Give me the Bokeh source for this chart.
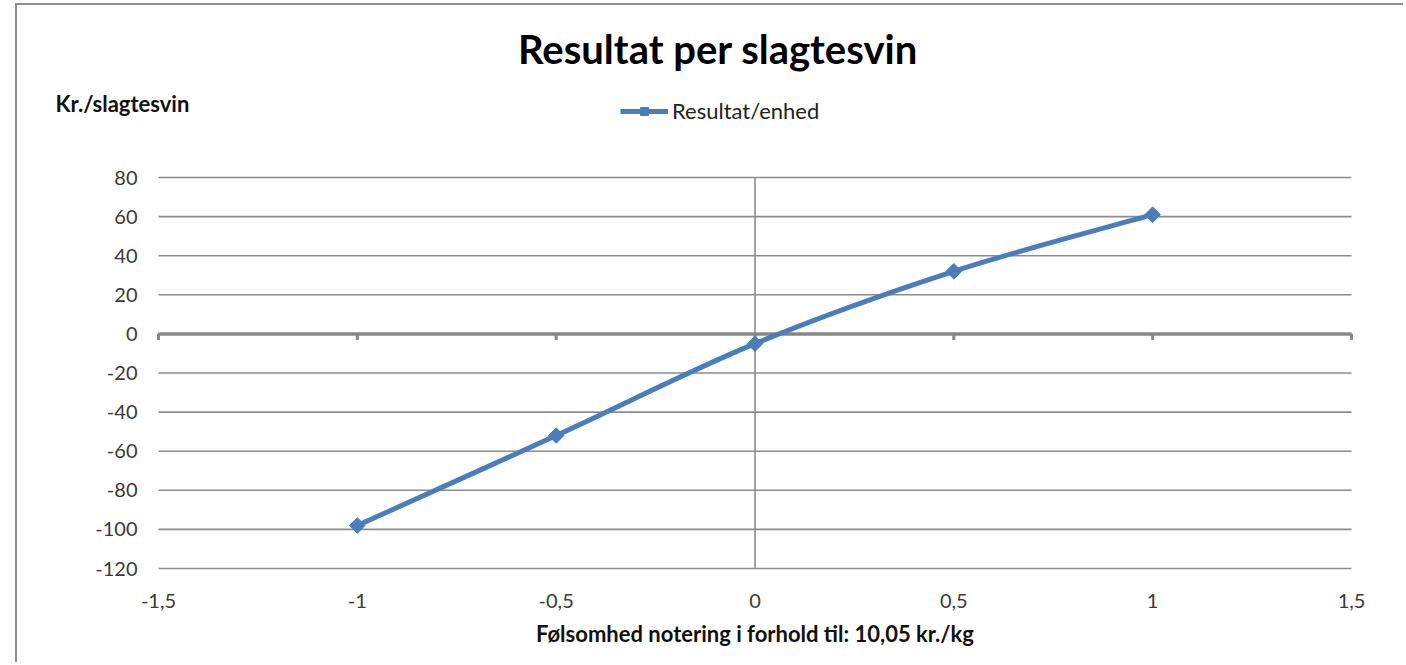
import math
from bokeh.plotting import figure
from bokeh.models import Range1d, Legend, LegendItem, ColumnDataSource
from bokeh.core.properties import value
from bokeh.embed import file_html
from bokeh.resources import INLINE

# ---- data ----
sensitivity = [-1.0, -0.5, 0.0, 0.5, 1.0]
result_per_unit = [-98, -52, -5, 32, 61]
x_ticks = [-1.5, -1.0, -0.5, 0.0, 0.5, 1.0, 1.5]
y_ticks = [-120, -100, -80, -60, -40, -20, 0, 20, 40, 60, 80]
title_text = "Resultat per slagtesvin"
y_label_text = "Kr./slagtesvin"
x_label_text = "Følsomhed notering i forhold til: 10,05 kr./kg"
series_name = "Resultat/enhed"

FONT = value("Lato")
BLUE = "#4a7ebb"
GRID = "#8c8c8c"
AXIS = "#878787"

# ---- layout (pixels) ----
W, H = 1388, 659                     # canvas size
PLOT_L, PLOT_R = 141, 1334           # plot area within the canvas
PLOT_T, PLOT_B = 172, 563
px_x = (PLOT_R - PLOT_L) / (x_ticks[-1] - x_ticks[0])   # pixels per x unit
px_y = (PLOT_B - PLOT_T) / (y_ticks[-1] - y_ticks[0])   # pixels per y unit
x_lo = x_ticks[0] - PLOT_L / px_x
x_hi = x_ticks[-1] + (W - PLOT_R) / px_x
y_hi = y_ticks[-1] + PLOT_T / px_y
y_lo = y_ticks[0] - (H - PLOT_B) / px_y


def dx(px):
    return px / px_x


def dy(px):
    return px / px_y


def fmt(v):
    return ("%g" % v).replace(".", ",")


p = figure(width=W, height=H, output_backend="svg", toolbar_location=None,
           x_range=Range1d(x_lo, x_hi), y_range=Range1d(y_lo, y_hi),
           min_border_left=0, min_border_right=0,
           min_border_top=0, min_border_bottom=0)
p.outline_line_color = None
p.background_fill_color = "white"
p.border_fill_color = "white"
p.xaxis.visible = False
p.yaxis.visible = False
p.grid.visible = False
p.styles = {"margin-left": "15px", "margin-top": "3px",
            "border-left": "2px solid #8f8f8f", "border-top": "2px solid #8f8f8f"}

nx, ny = len(x_ticks), len(y_ticks)

# horizontal gridlines
p.segment(x0=[x_ticks[0]] * ny, x1=[x_ticks[-1]] * ny, y0=y_ticks, y1=y_ticks,
          line_color=GRID, line_width=1.6)
# vertical axis line at x = 0
p.segment(x0=[0], x1=[0], y0=[y_ticks[0]], y1=[y_ticks[-1]],
          line_color=GRID, line_width=1.6)
# horizontal axis at y = 0 with its tick marks
p.segment(x0=[x_ticks[0]], x1=[x_ticks[-1]], y0=[0], y1=[0],
          line_color=AXIS, line_width=3.5)
p.segment(x0=x_ticks, x1=x_ticks, y0=[0] * nx, y1=[-dy(6)] * nx,
          line_color=AXIS, line_width=3)

# tick labels
p.text(x=[x_ticks[0] - dx(21)] * ny, y=y_ticks, text=[fmt(v) for v in y_ticks],
       text_font=FONT, text_font_size="20px", text_color="#3a3a3a",
       text_align="right", text_baseline="middle")
p.text(x=x_ticks, y=[y_ticks[0] - dy(32)] * nx, text=[fmt(v) for v in x_ticks],
       text_font=FONT, text_font_size="20px", text_color="#3a3a3a",
       text_align="center", text_baseline="middle")

# axis captions and title
p.text(x=[0], y=[y_ticks[0] - dy(65)], text=[x_label_text],
       text_font=FONT, text_font_size="22px", text_font_style="bold",
       text_color="#111111", text_align="center", text_baseline="middle")
p.text(x=[x_ticks[0] - dx(103)], y=[y_ticks[-1] + dy(74)], text=[y_label_text],
       text_font=FONT, text_font_size="22px", text_font_style="bold",
       text_color="#111111", text_align="left", text_baseline="middle")
p.text(x=[0 - dx(37)], y=[y_ticks[-1] + dy(129)], text=[title_text],
       text_font=FONT, text_font_size="40px", text_font_style="bold",
       text_color="#000000", text_align="center", text_baseline="middle")

# smoothed line (Catmull-Rom style bezier through the data points, like Excel)
xs, ys = sensitivity, result_per_unit
n = len(xs)
bx0, by0, bx1, by1, c0x, c0y, c1x, c1y = [], [], [], [], [], [], [], []
for i in range(n - 1):
    xm = xs[i - 1] if i > 0 else xs[i]
    ym = ys[i - 1] if i > 0 else ys[i]
    xp = xs[i + 2] if i + 2 < n else xs[i + 1]
    yp = ys[i + 2] if i + 2 < n else ys[i + 1]
    bx0.append(xs[i]); by0.append(ys[i])
    bx1.append(xs[i + 1]); by1.append(ys[i + 1])
    c0x.append(xs[i] + (xs[i + 1] - xm) / 6.0)
    c0y.append(ys[i] + (ys[i + 1] - ym) / 6.0)
    c1x.append(xs[i + 1] - (xp - xs[i]) / 6.0)
    c1y.append(ys[i + 1] - (yp - ys[i]) / 6.0)
p.bezier(x0=bx0, y0=by0, x1=bx1, y1=by1, cx0=c0x, cy0=c0y, cx1=c1x, cy1=c1y,
         line_color=BLUE, line_width=5)

src = ColumnDataSource(dict(x=sensitivity, y=result_per_unit))
# one-point line: draws nothing itself but gives the legend its line sample
leg_line = p.line(x=sensitivity[:1], y=result_per_unit[:1],
                  line_color=BLUE, line_width=5)
pts = p.scatter("x", "y", source=src, marker="square", angle=math.pi / 4,
                size=11, fill_color=BLUE, line_color=BLUE)

legend = Legend(items=[LegendItem(label=series_name, renderers=[leg_line, pts])],
                location=(603, 540), orientation="horizontal",
                glyph_width=48, glyph_height=20, label_standoff=4,
                label_text_font="Lato", label_text_font_size="22px",
                label_text_color="#222222",
                background_fill_alpha=0, border_line_color=None,
                padding=0, margin=0)
p.add_layout(legend, "center")

open("out.html", "w").write(file_html(p, INLINE))
